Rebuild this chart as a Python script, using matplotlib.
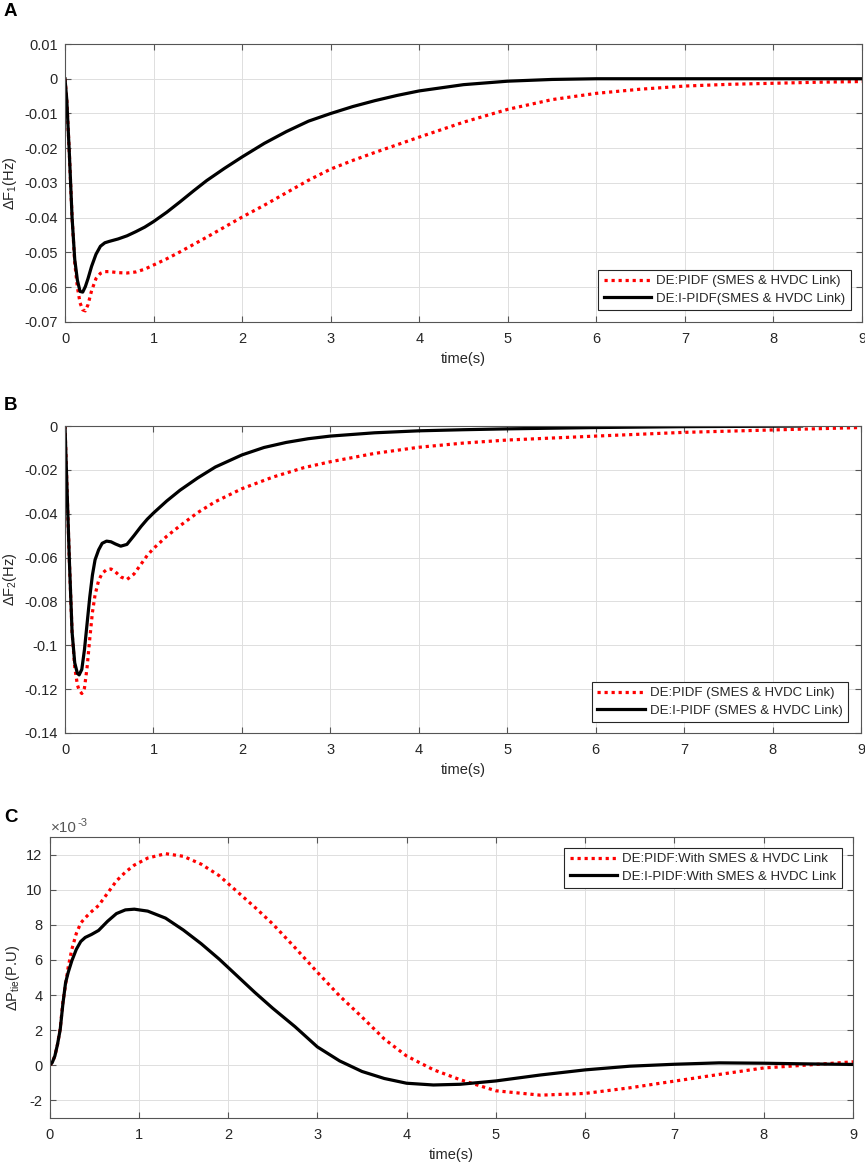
import numpy as np
import matplotlib.pyplot as plt
from matplotlib.ticker import FuncFormatter

plt.rcParams['font.family'] = ['Liberation Sans', 'DejaVu Sans']
plt.rcParams['mathtext.default'] = 'regular'
plt.rcParams['axes.unicode_minus'] = False

# ---- Panel A: frequency deviation area 1 ----
t_a = [0, 0.02, 0.05, 0.08, 0.11, 0.14, 0.17, 0.2, 0.23, 0.26, 0.3, 0.35, 0.4, 0.45,
       0.5, 0.6, 0.7, 0.8, 0.9, 1.0, 1.15, 1.3, 1.45, 1.6, 1.8, 2.0, 2.25, 2.5, 2.75,
       3.0, 3.25, 3.5, 3.75, 4.0, 4.5, 5.0, 5.5, 6.0, 6.5, 7.0, 7.5, 8.0, 8.5, 9.0]
pidf_a = [0, -0.006, -0.022, -0.040, -0.053, -0.060, -0.0645, -0.0665, -0.0668, -0.0650,
          -0.0610, -0.0575, -0.0560, -0.0555, -0.0555, -0.0558, -0.0559, -0.0556, -0.0548,
          -0.0536, -0.0518, -0.0498, -0.0477, -0.0456, -0.0427, -0.0398, -0.0364, -0.0328,
          -0.0292, -0.0260, -0.0235, -0.0212, -0.0190, -0.0168, -0.0125, -0.0088, -0.0060,
          -0.0042, -0.0030, -0.0021, -0.0016, -0.0013, -0.0010, -0.0008]
ipidf_a = [0, -0.006, -0.022, -0.040, -0.052, -0.058, -0.0612, -0.0614, -0.0598, -0.0575,
           -0.0540, -0.0505, -0.0482, -0.0472, -0.0468, -0.0461, -0.0452, -0.0440, -0.0427,
           -0.0411, -0.0384, -0.0354, -0.0323, -0.0293, -0.0258, -0.0225, -0.0186, -0.0152,
           -0.0122, -0.0100, -0.0080, -0.0063, -0.0048, -0.0035, -0.0017, -0.0007, -0.0002,
           0, 0, 0, 0, 0, 0, 0]
yticks_a = [-0.07, -0.06, -0.05, -0.04, -0.03, -0.02, -0.01, 0, 0.01]

# ---- Panel B: frequency deviation area 2 ----
t_b_red = [0, 0.02, 0.05, 0.08, 0.11, 0.14, 0.16, 0.19, 0.22, 0.25, 0.28, 0.31, 0.34,
           0.38, 0.42, 0.47, 0.52, 0.57, 0.63, 0.7, 0.78, 0.86, 0.93, 1.0, 1.15, 1.3, 1.5,
           1.7, 2.0, 2.35, 2.7, 3.0, 3.5, 4.0, 4.5, 5.0, 5.5, 6.0, 7.0, 8.0, 9.0]
pidf_b = [0, -0.025, -0.062, -0.094, -0.110, -0.118, -0.1205, -0.122, -0.1195, -0.110,
          -0.097, -0.085, -0.077, -0.0705, -0.0672, -0.0655, -0.0652, -0.0665, -0.0688,
          -0.0700, -0.0675, -0.0630, -0.0590, -0.0559, -0.0503, -0.0455, -0.0395, -0.0345,
          -0.0286, -0.0233, -0.0190, -0.0163, -0.0125, -0.0097, -0.0078, -0.0064, -0.0055,
          -0.0046, -0.0029, -0.0018, -0.0007]
t_b_blk = [0, 0.02, 0.05, 0.08, 0.11, 0.14, 0.16, 0.19, 0.22, 0.25, 0.28, 0.31, 0.34,
           0.38, 0.42, 0.47, 0.52, 0.57, 0.63, 0.7, 0.78, 0.86, 0.93, 1.0, 1.15, 1.3, 1.5,
           1.7, 2.0, 2.25, 2.5, 2.75, 3.0, 3.5, 4.0, 4.5, 5.0, 5.5, 6.0, 7.0, 8.0, 8.33]
ipidf_b = [0, -0.025, -0.062, -0.094, -0.108, -0.1128, -0.1135, -0.111, -0.102, -0.090,
           -0.078, -0.068, -0.061, -0.0565, -0.0535, -0.0525, -0.0528, -0.0538, -0.0548,
           -0.0540, -0.0500, -0.0458, -0.0425, -0.0397, -0.0342, -0.0293, -0.0237, -0.0187,
           -0.0132, -0.0098, -0.0075, -0.0058, -0.0046, -0.0031, -0.0022, -0.0017, -0.0013,
           -0.0010, -0.0007, -0.0003, -0.0001, 0]
yticks_b = [-0.14, -0.12, -0.1, -0.08, -0.06, -0.04, -0.02, 0]

# ---- Panel C: tie-line power deviation (x1e-3) ----
t_c = [0, 0.03, 0.06, 0.09, 0.12, 0.15, 0.18, 0.21, 0.25, 0.3, 0.35, 0.4, 0.47, 0.55,
       0.65, 0.75, 0.85, 0.95, 1.1, 1.3, 1.5, 1.7, 1.9, 2.1, 2.3, 2.5, 2.75, 3.0, 3.25,
       3.5, 3.75, 4.0, 4.3, 4.6, 5.0, 5.5, 6.0, 6.5, 7.0, 7.5, 8.0, 8.5, 9.0]
pidf_c = [0, 0.15, 0.53, 1.2, 2.1, 3.6, 4.6, 5.6, 6.6, 7.5, 8.1, 8.4, 8.75, 9.1, 9.8,
          10.5, 11.0, 11.4, 11.8, 12.05, 11.9, 11.45, 10.8, 9.9, 9.0, 8.05, 6.7, 5.3,
          3.95, 2.75, 1.5, 0.53, -0.25, -0.82, -1.45, -1.7, -1.6, -1.28, -0.9, -0.52,
          -0.15, 0.02, 0.2]
ipidf_c = [0, 0.15, 0.53, 1.2, 2.04, 3.5, 4.7, 5.3, 5.95, 6.6, 7.05, 7.28, 7.45, 7.68,
           8.2, 8.64, 8.85, 8.89, 8.78, 8.38, 7.7, 6.92, 6.05, 5.1, 4.15, 3.25, 2.2, 1.05,
           0.25, -0.35, -0.75, -1.02, -1.12, -1.08, -0.89, -0.55, -0.26, -0.05, 0.06,
           0.14, 0.12, 0.08, 0.05]
yticks_c = [-2, 0, 2, 4, 6, 8, 10, 12]
scale_c = 1e-3

xticks = [0, 1, 2, 3, 4, 5, 6, 7, 8, 9]

RED_STYLE = dict(color='red', linestyle=(0, (1, 1.2)), lw=2.3)
BLK_STYLE = dict(color='black', lw=2.3)
AX_COLOR = '#555555'
TXT_COLOR = '#262626'

fig = plt.figure(figsize=(8.65, 11.63), dpi=100)
W, H = 865.0, 1163.0


def make_axes(left, right, top, bottom):
    return fig.add_axes([left / W, 1 - bottom / H, (right - left) / W, (bottom - top) / H])


def style(ax, ylim, yticks):
    ax.set_xlim(0, 9)
    ax.set_ylim(*ylim)
    ax.set_xticks(xticks)
    ax.set_yticks(yticks)
    ax.grid(True, color='#dedede', lw=0.7)
    ax.set_axisbelow(True)
    for s in ax.spines.values():
        s.set_color(AX_COLOR)
        s.set_linewidth(0.8)
    ax.tick_params(direction='in', length=4, width=0.8, top=True, right=True,
                   colors=AX_COLOR, labelcolor=TXT_COLOR, labelsize=10.5)
    ax.tick_params(axis='x', pad=7)
    ax.tick_params(axis='y', pad=5)
    ax.set_xlabel('time(s)', fontsize=10.5, color=TXT_COLOR, labelpad=4.5)


def add_legend(ax, loc, anchor):
    leg = ax.legend(loc=loc, bbox_to_anchor=anchor, borderaxespad=0, fancybox=False,
                    edgecolor=TXT_COLOR, framealpha=1, fontsize=9.5, handlelength=3.6,
                    borderpad=0.4, labelspacing=0.4, handletextpad=0.4)
    leg.get_frame().set_linewidth(0.8)
    for txt in leg.get_texts():
        txt.set_color(TXT_COLOR)


gfmt = FuncFormatter(lambda v, p: f'{round(v, 4):g}')

# Panel A
ax_a = make_axes(65, 862, 44, 322)
ax_a.plot(t_a, pidf_a, label='DE:PIDF (SMES & HVDC Link)', **RED_STYLE)
ax_a.plot(t_a, ipidf_a, label='DE:I-PIDF(SMES & HVDC Link)', **BLK_STYLE)
style(ax_a, (-0.07, 0.01), yticks_a)
ax_a.yaxis.set_major_formatter(gfmt)
ax_a.set_ylabel('ΔF$_1$(Hz)', fontsize=10.5, color=TXT_COLOR)
ax_a.yaxis.set_label_coords(-0.058, 0.5)
add_legend(ax_a, 'lower right', (0.986, 0.043))

# Panel B
ax_b = make_axes(65, 861, 426, 733)
ax_b.plot(t_b_red, pidf_b, label='DE:PIDF (SMES & HVDC Link)', **RED_STYLE)
ax_b.plot(t_b_blk, ipidf_b, label='DE:I-PIDF (SMES & HVDC Link)', **BLK_STYLE)
style(ax_b, (-0.14, 0), yticks_b)
ax_b.yaxis.set_major_formatter(gfmt)
ax_b.set_ylabel('ΔF$_2$(Hz)', fontsize=10.5, color=TXT_COLOR)
ax_b.yaxis.set_label_coords(-0.058, 0.5)
add_legend(ax_b, 'lower right', (0.984, 0.036))

# Panel C
ax_c = make_axes(49.5, 853, 837, 1118)
ax_c.plot(t_c, np.array(pidf_c) * scale_c, label='DE:PIDF:With SMES & HVDC Link', **RED_STYLE)
ax_c.plot(t_c, np.array(ipidf_c) * scale_c, label='DE:I-PIDF:With SMES & HVDC Link', **BLK_STYLE)
style(ax_c, (-3 * scale_c, 13 * scale_c), np.array(yticks_c) * scale_c)
ax_c.yaxis.set_major_formatter(FuncFormatter(lambda v, p: f'{round(v / scale_c, 3):g}'))
ax_c.annotate('×10', xy=(0, 1), xycoords='axes fraction', xytext=(1, 1.5),
              textcoords='offset points', fontsize=11, color='#555555', ha='left', va='bottom')
ax_c.annotate('-3', xy=(0, 1), xycoords='axes fraction', xytext=(20, 6.5),
              textcoords='offset points', fontsize=8, color='#555555', ha='left', va='bottom')
ax_c.set_ylabel('ΔP$_{tie}$(P.U)', fontsize=10.5, color=TXT_COLOR)
ax_c.yaxis.set_label_coords(-0.034, 0.5)
add_legend(ax_c, 'upper right', (0.986, 0.961))

# panel letters
for letter, ypix in [('A', 11), ('B', 405), ('C', 817)]:
    fig.text(4 / W, 1 - ypix / H, letter, fontsize=13.5, fontweight='bold', va='center', ha='left')

fig.savefig('out.png', dpi=100)
